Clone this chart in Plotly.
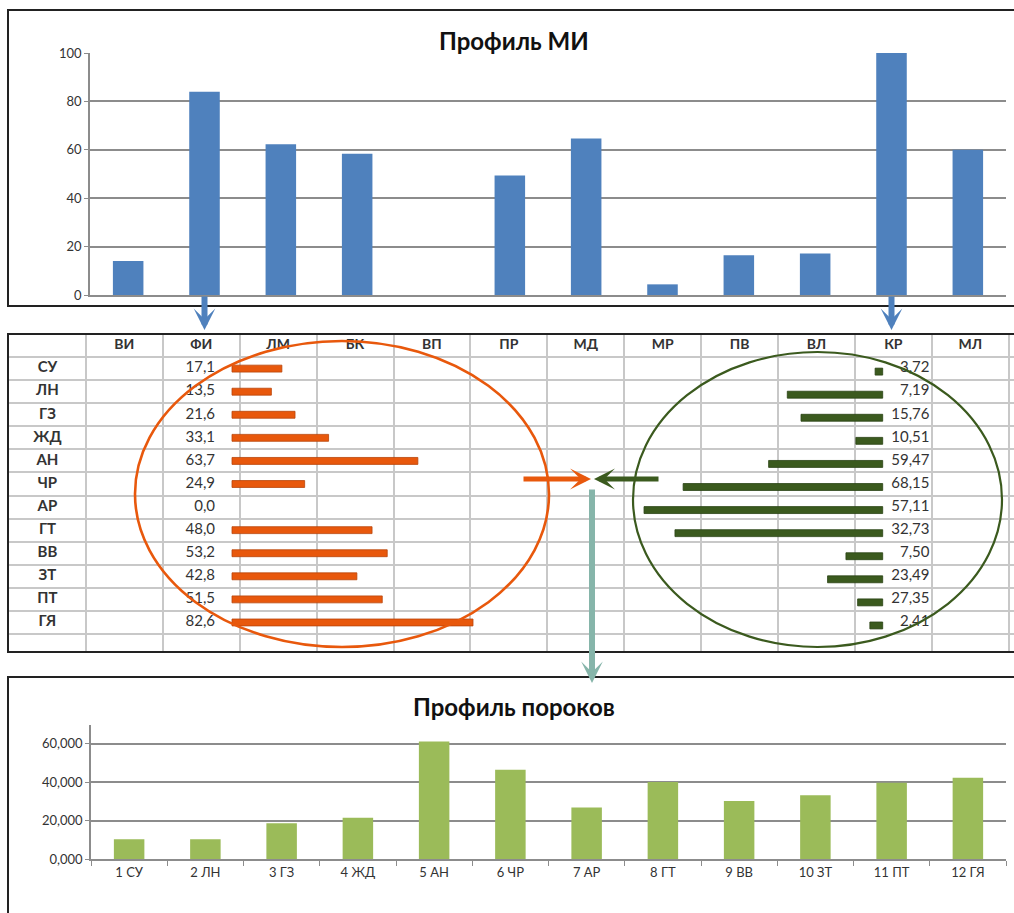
import plotly.graph_objects as go

# ---- data -------------------------------------------------------------
mi_codes = ["ВИ", "ФИ", "ЛМ", "БК", "ВП", "ПР", "МД", "МР", "ПВ", "ВЛ", "КР", "МЛ"]
mi_values = [14.0, 84.0, 62.3, 58.4, 0.0, 49.4, 64.7, 4.4, 16.4, 17.2, 100.0, 60.0]

vice_codes = ["СУ", "ЛН", "ГЗ", "ЖД", "АН", "ЧР", "АР", "ГТ", "ВВ", "ЗТ", "ПТ", "ГЯ"]
fi_values = [17.1, 13.5, 21.6, 33.1, 63.7, 24.9, 0.0, 48.0, 53.2, 42.8, 51.5, 82.6]
kr_values = [3.72, 7.19, 15.76, 10.51, 59.47, 68.15, 57.11, 32.73, 7.50, 23.49, 27.35, 2.41]
# lengths of the data bars shown in the КР column (same units as the ФИ bars)
kr_bar_values = [2.6, 32.7, 28.0, 9.2, 39.1, 68.4, 81.8, 71.2, 12.6, 18.9, 8.6, 4.4]

vice_profile = [10.4, 10.4, 18.7, 21.6, 61.2, 46.6, 27.0, 40.2, 30.3, 33.3, 39.8, 42.4]
vice_ticks = [0, 20, 40, 60]

# ---- page geometry helpers (pixels -> paper) ---------------------------
W, H = 1014, 913


def fx(px):
    return px / W


def fy(py):
    return 1 - py / H


FONT = "Lato, 'Open Sans', sans-serif"
BLUE = "#4F81BD"
GREEN = "#9BBB59"
ORANGE = "#E8580C"
DARKGREEN = "#3B5A1E"
TEAL = "#86B5AA"
AXIS = "#8C8C8C"
CELL = "#C8C8C8"

fig = go.Figure()

# ---- top chart: Профиль МИ --------------------------------------------
fig.add_trace(go.Bar(
    x=mi_codes, y=mi_values, marker=dict(color=BLUE, line=dict(width=0)),
    xaxis="x", yaxis="y", showlegend=False))

# ---- middle table ------------------------------------------------------
rows_y = [i + 1.5 for i in range(len(vice_codes))]

fig.add_trace(go.Bar(
    x=fi_values, y=rows_y, orientation="h", base=0,
    width=0.3, offset=-0.15,
    marker=dict(color=ORANGE,
                line=dict(color="#B9450A",
                          width=[0.8 if v > 0 else 0 for v in fi_values])),
    xaxis="x3", yaxis="y2", showlegend=False))

fig.add_trace(go.Bar(
    x=kr_bar_values, y=rows_y, orientation="h", base=0,
    width=0.3, offset=-0.02,
    marker=dict(color=DARKGREEN, line=dict(color="#2A4214", width=0.8)),
    xaxis="x4", yaxis="y2", showlegend=False))

# header labels
fig.add_trace(go.Scatter(
    x=[i + 1.5 for i in range(len(mi_codes))], y=[0.5] * len(mi_codes),
    text=[f"<b>{c}</b>" for c in mi_codes], mode="text",
    textfont=dict(family=FONT, size=14, color="#333333"),
    xaxis="x2", yaxis="y2", showlegend=False, hoverinfo="skip"))

# row labels
fig.add_trace(go.Scatter(
    x=[0.5] * len(vice_codes), y=rows_y,
    text=[f"<b>{c}</b>" for c in vice_codes], mode="text",
    textfont=dict(family=FONT, size=15, color="#333333"),
    xaxis="x2", yaxis="y2", showlegend=False, hoverinfo="skip"))

# ФИ column values
fig.add_trace(go.Scatter(
    x=[2.68] * len(fi_values), y=rows_y,
    text=[f"{v:.1f}".replace(".", ",") for v in fi_values],
    mode="text", textposition="middle left",
    textfont=dict(family=FONT, size=15, color="#333333"),
    xaxis="x2", yaxis="y2", showlegend=False, hoverinfo="skip"))

# КР column values
fig.add_trace(go.Scatter(
    x=[11.97] * len(kr_values), y=rows_y,
    text=[f"{v:.2f}".replace(".", ",") for v in kr_values],
    mode="text", textposition="middle left",
    textfont=dict(family=FONT, size=15, color="#333333"),
    xaxis="x2", yaxis="y2", showlegend=False, hoverinfo="skip"))

# ---- bottom chart: Профиль пороков -------------------------------------
fig.add_trace(go.Bar(
    x=[f"{i + 1} {c}" for i, c in enumerate(vice_codes)], y=vice_profile,
    marker=dict(color=GREEN, line=dict(width=0)),
    xaxis="x5", yaxis="y5", showlegend=False))

# ---- axes --------------------------------------------------------------
tickfont = dict(family=FONT, size=13, color="#333333")

# bar scale for table data bars: 0 at x=232px (ФИ) / 882.7px (КР)
px_per_unit = 241 / 82.6

fig.update_layout(
    template="none",
    width=W, height=H, margin=dict(l=0, r=0, t=0, b=0, autoexpand=False),
    paper_bgcolor="white", plot_bgcolor="rgba(0,0,0,0)",
    bargap=0.6,
    xaxis=dict(domain=[fx(90), fx(1006)], anchor="y", showticklabels=False,
               showline=True, linecolor=AXIS, linewidth=1.5, ticks="",
               showgrid=False, automargin=False),
    yaxis=dict(domain=[fy(295), fy(53)], anchor="x", range=[0, 100], dtick=20,
               showgrid=True, gridcolor=AXIS, gridwidth=1.5, zeroline=False,
               showline=True, linecolor=AXIS, linewidth=1.5,
               ticks="outside", ticklen=4, tickcolor=AXIS, tickfont=tickfont,
               automargin=False),
    xaxis2=dict(domain=[fx(9), 1], anchor="y2", range=[0, (W - 9) / 76.9],
                tick0=0, dtick=1, showgrid=True, gridcolor=CELL, gridwidth=2,
                showticklabels=False, zeroline=False, ticks="",
                automargin=False),
    yaxis2=dict(domain=[fy(652), fy(334)], anchor="x2", range=[13.78, 0],
                tick0=0, dtick=1, showgrid=True, gridcolor=CELL, gridwidth=2,
                showticklabels=False, zeroline=False, ticks="",
                automargin=False),
    xaxis3=dict(overlaying="x2", anchor="y2",
                range=[(9 - 232) / px_per_unit, (W - 232) / px_per_unit],
                visible=False, automargin=False),
    xaxis4=dict(overlaying="x2", anchor="y2",
                range=[(882.7 - 9) / px_per_unit, (882.7 - W) / px_per_unit],
                visible=False, automargin=False),
    xaxis5=dict(domain=[fx(91), fx(1006)], anchor="y5", showline=True,
                linecolor=AXIS, linewidth=1.5, ticks="outside", ticklen=5,
                tickcolor=AXIS, tickson="boundaries", tickfont=tickfont,
                showgrid=False, automargin=False),
    yaxis5=dict(domain=[fy(859.3), fy(724.7)], anchor="x5", range=[0, 70],
                tickvals=vice_ticks,
                ticktext=[f"{v},000" if v else "0,000" for v in vice_ticks],
                showgrid=True, gridcolor=AXIS, gridwidth=1.5, zeroline=False,
                showline=True, linecolor=AXIS, linewidth=1.5,
                ticks="outside", ticklen=4, tickcolor=AXIS, tickfont=tickfont,
                automargin=False),
)

# ---- frames and ellipses -----------------------------------------------
frame = dict(type="rect", xref="paper", yref="paper",
             line=dict(color="#222222", width=2), fillcolor="rgba(0,0,0,0)")
shapes = [
    dict(frame, x0=fx(8), x1=1.01, y0=fy(306), y1=fy(10)),
    dict(frame, x0=fx(8), x1=1.01, y0=fy(652), y1=fy(334)),
    dict(frame, x0=fx(8), x1=1.01, y0=-0.01, y1=fy(677)),
    dict(type="circle", xref="paper", yref="paper",
         x0=fx(135), x1=fx(549), y0=fy(647), y1=fy(341),
         line=dict(color=ORANGE, width=2.6)),
    dict(type="circle", xref="paper", yref="paper",
         x0=fx(633), x1=fx(1002), y0=fy(647), y1=fy(352),
         line=dict(color=DARKGREEN, width=2.2)),
]
fig.update_layout(shapes=shapes)

# ---- titles and arrows -------------------------------------------------
title_font = dict(family=FONT, size=24, color="#111111")
annotations = [
    dict(text="<b>Профиль МИ</b>", x=fx(514), y=fy(40), xref="paper",
         yref="paper", xanchor="center", yanchor="middle", showarrow=False,
         font=title_font),
    dict(text="<b>Профиль пороков</b>", x=fx(514), y=fy(706), xref="paper",
         yref="paper", xanchor="center", yanchor="middle", showarrow=False,
         font=title_font),
]

arrow = dict(text="", showarrow=True, arrowhead=3, standoff=0, startstandoff=0)
for code in ["ФИ", "КР"]:
    annotations.append(dict(arrow, x=code, xref="x", y=fy(330), yref="paper",
                            ax=0, ay=-35, arrowcolor=BLUE, arrowwidth=6,
                            arrowsize=0.6))
annotations += [
    dict(arrow, x=fx(591), y=fy(479), xref="paper", yref="paper",
         ax=-69, ay=0, arrowcolor=ORANGE, arrowwidth=5, arrowsize=0.7),
    dict(arrow, x=fx(594), y=fy(479), xref="paper", yref="paper",
         ax=66, ay=0, arrowcolor=DARKGREEN, arrowwidth=5, arrowsize=0.7),
    dict(arrow, x=fx(592), y=fy(683), xref="paper", yref="paper",
         ax=0, ay=-195, arrowcolor=TEAL, arrowwidth=6, arrowsize=0.6),
]
fig.update_layout(annotations=annotations)

fig.write_html("out.html")
